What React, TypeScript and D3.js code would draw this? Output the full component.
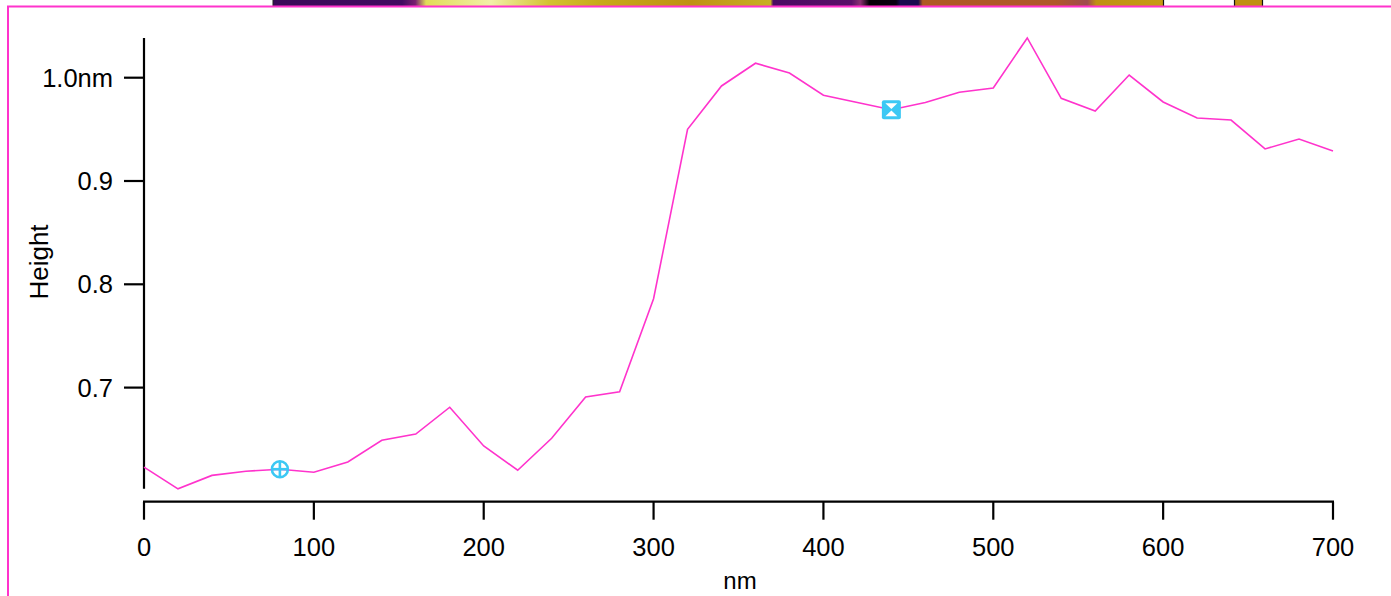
import React from "react";
import * as d3 from "d3";

const distanceNm = [0,20,40,60,80,100,120,140,160,180,200,220,240,260,280,300,320,340,360,380,400,420,440,460,480,500,520,540,560,580,600,620,640,660,680,700];
const heightNm = [0.623,0.602,0.615,0.619,0.621,0.618,0.628,0.649,0.655,0.681,0.6435,0.620,0.651,0.691,0.696,0.786,0.950,0.992,1.014,1.0045,0.983,0.976,0.969,0.976,0.986,0.990,1.0385,0.980,0.9677,1.0026,0.9765,0.961,0.959,0.931,0.9406,0.929];
const xTicks = [0,100,200,300,400,500,600,700];
const yTicks = [0.7,0.8,0.9,1.0];
const yTickLabels = ["0.7","0.8","0.9","1.0nm"];
const cursorA = { x: 80, y: 0.621 };
const cursorB = { x: 440, y: 0.969 };

// decorative image strip at top (color bands)
const stripStops = [
  { o: 0, c: "#3a0a58" },
  { o: 0.145, c: "#420a60" },
  { o: 0.16, c: "#7a2070" },
  { o: 0.172, c: "#e2dc58" },
  { o: 0.245, c: "#f2f0a8" },
  { o: 0.31, c: "#d4c230" },
  { o: 0.37, c: "#c8a818" },
  { o: 0.47, c: "#c09012" },
  { o: 0.559, c: "#c8b022" },
  { o: 0.562, c: "#4a0a62" },
  { o: 0.65, c: "#5a1068" },
  { o: 0.66, c: "#8a3070" },
  { o: 0.67, c: "#050005" },
  { o: 0.7, c: "#0a0010" },
  { o: 0.705, c: "#1a0a50" },
  { o: 0.725, c: "#1a0a50" },
  { o: 0.73, c: "#b05a22" },
  { o: 0.88, c: "#b0582a" },
  { o: 0.915, c: "#a04a50" },
  { o: 0.925, c: "#c09012" },
  { o: 1, c: "#c89a14" },
];

export default function App() {
  const W = 1391, H = 596;
  const x = d3.scaleLinear().domain([0, 700]).range([144, 1333]);
  const yMin = d3.min(heightNm)!, yMax = d3.max(heightNm)!;
  const y = d3.scaleLinear().domain([0.7, 1.0]).range([387.6, 77.7]);
  const line = d3.line<number>().x((_, i) => x(distanceNm[i])).y((d) => y(d));
  const pink = "#ff33cc";
  const cyan = "#3cc8f4";
  const font = "'Liberation Sans', Arial, sans-serif";
  const axisX = x(0);
  const axisY = 501.7;
  const ax = x(cursorA.x), ay = y(cursorA.y);
  const bx = x(cursorB.x), by = y(cursorB.y);
  return (
    <svg width={W} height={H} style={{ position: "absolute", left: 0, top: 0 }} fontFamily={font}>
      <defs>
        <linearGradient id="strip" x1="0" x2="1" y1="0" y2="0">
          {stripStops.map((s, i) => (
            <stop key={i} offset={s.o} stopColor={s.c} />
          ))}
        </linearGradient>
      </defs>
      <rect x={0} y={0} width={W} height={H} fill="#fff" />
      {/* top image strip */}
      <rect x={273} y={0} width={890} height={6} fill="url(#strip)" />
      <line x1={273} x2={273} y1={0} y2={6} stroke="#222" strokeWidth={1} />
      <line x1={1163.5} x2={1163.5} y1={0} y2={6} stroke="#111" strokeWidth={1.2} />
      <rect x={1235} y={0} width={27} height={6} fill="#c0900f" />
      <line x1={1234.5} x2={1234.5} y1={0} y2={6} stroke="#111" strokeWidth={1.2} />
      <line x1={1262.5} x2={1262.5} y1={0} y2={6} stroke="#111" strokeWidth={1.2} />
      {/* magenta frame */}
      <line x1={7} x2={W} y1={6.5} y2={6.5} stroke={pink} strokeWidth={2} />
      <line x1={8} x2={8} y1={6} y2={H} stroke={pink} strokeWidth={2} />
      {/* y axis */}
      <line x1={axisX} x2={axisX} y1={y(yMax)} y2={y(yMin)} stroke="#000" strokeWidth={2.2} />
      {yTicks.map((t, i) => (
        <g key={t}>
          <line x1={axisX - 20} x2={axisX} y1={y(t)} y2={y(t)} stroke="#000" strokeWidth={2.2} />
          <text x={113} y={y(t)} dy="0.36em" textAnchor="end" fontSize={25.5} fill="#000">
            {yTickLabels[i]}
          </text>
        </g>
      ))}
      <text transform={`translate(48,${262}) rotate(-90)`} textAnchor="middle" fontSize={26} fill="#000">
        Height
      </text>
      {/* x axis */}
      <line x1={axisX - 1} x2={x(700) + 1} y1={axisY} y2={axisY} stroke="#000" strokeWidth={2.2} />
      {xTicks.map((t) => (
        <g key={t}>
          <line x1={x(t)} x2={x(t)} y1={axisY} y2={axisY + 18} stroke="#000" strokeWidth={2.2} />
          <text x={x(t)} y={555.5} textAnchor="middle" fontSize={25.5} fill="#000">
            {t}
          </text>
        </g>
      ))}
      <text x={740} y={589} textAnchor="middle" fontSize={24} fill="#000">
        nm
      </text>
      {/* data line */}
      <path d={line(heightNm) || ""} fill="none" stroke={pink} strokeWidth={1.6} />
      {/* cursor A: circle with plus */}
      <g stroke={cyan} strokeWidth={2.6} fill="none">
        <circle cx={ax} cy={ay} r={8} />
        <line x1={ax - 8} x2={ax + 8} y1={ay} y2={ay} />
        <line x1={ax} x2={ax} y1={ay - 8} y2={ay + 8} />
      </g>
      {/* cursor B: square with X */}
      <g>
        <rect x={bx - 9.5} y={by - 9.5} width={19} height={19} rx={2} fill={cyan} />
        <path d={`M${bx - 6},${by - 6.5} L${bx + 6},${by - 6.5} L${bx},${by - 0.8} Z`} fill="#fff" />
        <path d={`M${bx - 6},${by + 6.5} L${bx + 6},${by + 6.5} L${bx},${by + 0.8} Z`} fill="#fff" />
      </g>
    </svg>
  );
}
